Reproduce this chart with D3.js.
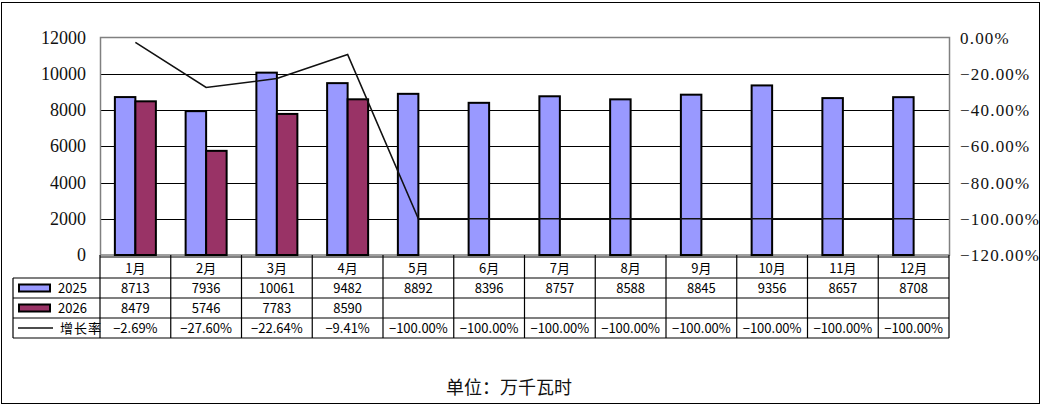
<!DOCTYPE html>
<html>
<head>
<meta charset="utf-8">
<script src="https://cdn.jsdelivr.net/npm/d3@7"></script>
<style>
  body { margin: 0; background: #fff; }
  svg { display: block; }
  .serif { font-family: "Times New Roman", "Liberation Serif", "DejaVu Serif", serif; }
  .cell { font-family: "Noto Sans CJK SC", "DejaVu Sans", sans-serif; }
</style>
</head>
<body>
<div id="chart"></div>
<script>
var months = ["1月","2月","3月","4月","5月","6月","7月","8月","9月","10月","11月","12月"];
var y2025 = [8713, 7936, 10061, 9482, 8892, 8396, 8757, 8588, 8845, 9356, 8657, 8708];
var y2026 = [8479, 5746, 7783, 8590, null, null, null, null, null, null, null, null];
var growth = [-2.69, -27.60, -22.64, -9.41, -100, -100, -100, -100, -100, -100, -100, -100];
var leftTicks = [0, 2000, 4000, 6000, 8000, 10000, 12000];
var rightTicks = [0, -20, -40, -60, -80, -100, -120];

var W = 1042, H = 406;
var plot = { left: 100, right: 949, top: 37.5, bottom: 255 };

var svg = d3.select("#chart").append("svg")
    .attr("width", W)
    .attr("height", H);

// outer frame
svg.append("rect")
    .attr("x", 1.5).attr("y", 2.5)
    .attr("width", 1038).attr("height", 401)
    .attr("fill", "none").attr("stroke", "#000").attr("stroke-width", 1);

var x = d3.scaleBand().domain(months).range([plot.left, plot.right]).padding(0);
var xs = d3.scaleBand().domain(["2025", "2026"]).range([-20.5, 20.5]).padding(0);
var y = d3.scaleLinear().domain([0, 12000]).range([plot.bottom, plot.top]);
var y2 = d3.scaleLinear().domain([-120, 0]).range([plot.bottom, plot.top]);

// gridlines
svg.append("g")
  .selectAll("line").data(leftTicks.filter(function (d) { return d > 0 && d < 12000; }))
  .enter().append("line")
    .attr("x1", plot.left).attr("x2", plot.right)
    .attr("y1", function (d) { return Math.round(y(d)) + 0.5; })
    .attr("y2", function (d) { return Math.round(y(d)) + 0.5; })
    .attr("stroke", "#000").attr("stroke-width", 1);

// plot border
svg.append("rect")
    .attr("x", plot.left + 0.5).attr("y", plot.top)
    .attr("width", plot.right - plot.left).attr("height", plot.bottom - plot.top)
    .attr("fill", "none").attr("stroke", "#808080").attr("stroke-width", 1.5);

// left axis labels
svg.append("g")
  .selectAll("text").data(leftTicks)
  .enter().append("text")
    .attr("class", "serif")
    .attr("x", 86)
    .attr("y", function (d) { return y(d) + 6; })
    .attr("text-anchor", "end")
    .attr("font-size", 18)
    .attr("fill", "#111")
    .text(function (d) { return d; });

// right axis labels
svg.append("g")
  .selectAll("text").data(rightTicks)
  .enter().append("text")
    .attr("class", "serif")
    .attr("x", 960)
    .attr("y", function (d) { return y2(d) + 6; })
    .attr("font-size", 17)
    .attr("letter-spacing", 1.2)
    .attr("fill", "#111")
    .text(function (d) { return d3.format(".2f")(d) + "%"; });

// bars
var bars = [];
months.forEach(function (m, i) {
  bars.push({ m: m, s: "2025", v: y2025[i], c: "#9999ff" });
  if (y2026[i] != null) bars.push({ m: m, s: "2026", v: y2026[i], c: "#993366" });
});

svg.append("g")
  .selectAll("rect").data(bars)
  .enter().append("rect")
    .attr("x", function (d) { return x(d.m) + x.bandwidth() / 2 + xs(d.s); })
    .attr("y", function (d) { return y(d.v); })
    .attr("width", xs.bandwidth())
    .attr("height", function (d) { return plot.bottom - y(d.v); })
    .attr("fill", function (d) { return d.c; })
    .attr("stroke", "#000").attr("stroke-width", 2);

// growth line
var line = d3.line()
    .x(function (d, i) { return x(months[i]) + x.bandwidth() / 2; })
    .y(function (d) { return y2(d); });

svg.append("path")
    .datum(growth)
    .attr("d", line)
    .attr("fill", "none")
    .attr("stroke", "#111").attr("stroke-width", 1.6);

// data table
var rows = [257, 278, 298, 318, 338];
var tbl = svg.append("g").attr("stroke", "#000").attr("stroke-width", 1.2);

tbl.append("line").attr("x1", plot.left).attr("x2", plot.right).attr("y1", rows[0]).attr("y2", rows[0]);
rows.slice(1).forEach(function (r) {
  tbl.append("line").attr("x1", 13).attr("x2", plot.right).attr("y1", r).attr("y2", r);
});
tbl.append("line").attr("x1", 13).attr("x2", 13).attr("y1", rows[1]).attr("y2", rows[4]);
months.forEach(function (m) {
  tbl.append("line")
      .attr("x1", x(m)).attr("x2", x(m))
      .attr("y1", plot.bottom).attr("y2", rows[4]);
});
tbl.append("line").attr("x1", plot.right).attr("x2", plot.right).attr("y1", plot.bottom).attr("y2", rows[4]);

function rowText(vals, r, fmt) {
  svg.append("g")
    .selectAll("text").data(vals)
    .enter().append("text")
      .attr("class", "cell")
      .attr("x", function (d, i) { return x(months[i]) + x.bandwidth() / 2; })
      .attr("y", (rows[r] + rows[r + 1]) / 2 + 5)
      .attr("text-anchor", "middle")
      .attr("font-size", 13)
      .attr("fill", "#000")
      .text(function (d) { return d == null ? "" : fmt(d); });
}

rowText(months, 0, function (d) { return d; });
rowText(y2025, 1, function (d) { return d; });
rowText(y2026, 2, function (d) { return d; });
rowText(growth, 3, function (d) { return d3.format(".2f")(d) + "%"; });

// legend keys
var legend = [
  { name: "2025", c: "#9999ff", row: 1 },
  { name: "2026", c: "#993366", row: 2 }
];
legend.forEach(function (d) {
  var cy = (rows[d.row] + rows[d.row + 1]) / 2;
  svg.append("rect")
      .attr("x", 19).attr("y", cy - 3.5)
      .attr("width", 31).attr("height", 7)
      .attr("fill", d.c).attr("stroke", "#000").attr("stroke-width", 2);
  svg.append("text")
      .attr("class", "cell")
      .attr("x", 58).attr("y", cy + 5)
      .attr("font-size", 13)
      .text(d.name);
});
var ly = (rows[3] + rows[4]) / 2;
svg.append("line")
    .attr("x1", 18).attr("x2", 53).attr("y1", ly).attr("y2", ly)
    .attr("stroke", "#111").attr("stroke-width", 1.6);
svg.append("text")
    .attr("class", "cell")
    .attr("x", 60).attr("y", ly + 5)
    .attr("font-size", 13)
    .attr("letter-spacing", 1)
    .text("增长率");

// unit caption
svg.append("text")
    .attr("class", "cell")
    .attr("x", 509).attr("y", 394)
    .attr("text-anchor", "middle")
    .attr("font-size", 18)
    .attr("fill", "#111")
    .text("单位：万千瓦时");
</script>
</body>
</html>
